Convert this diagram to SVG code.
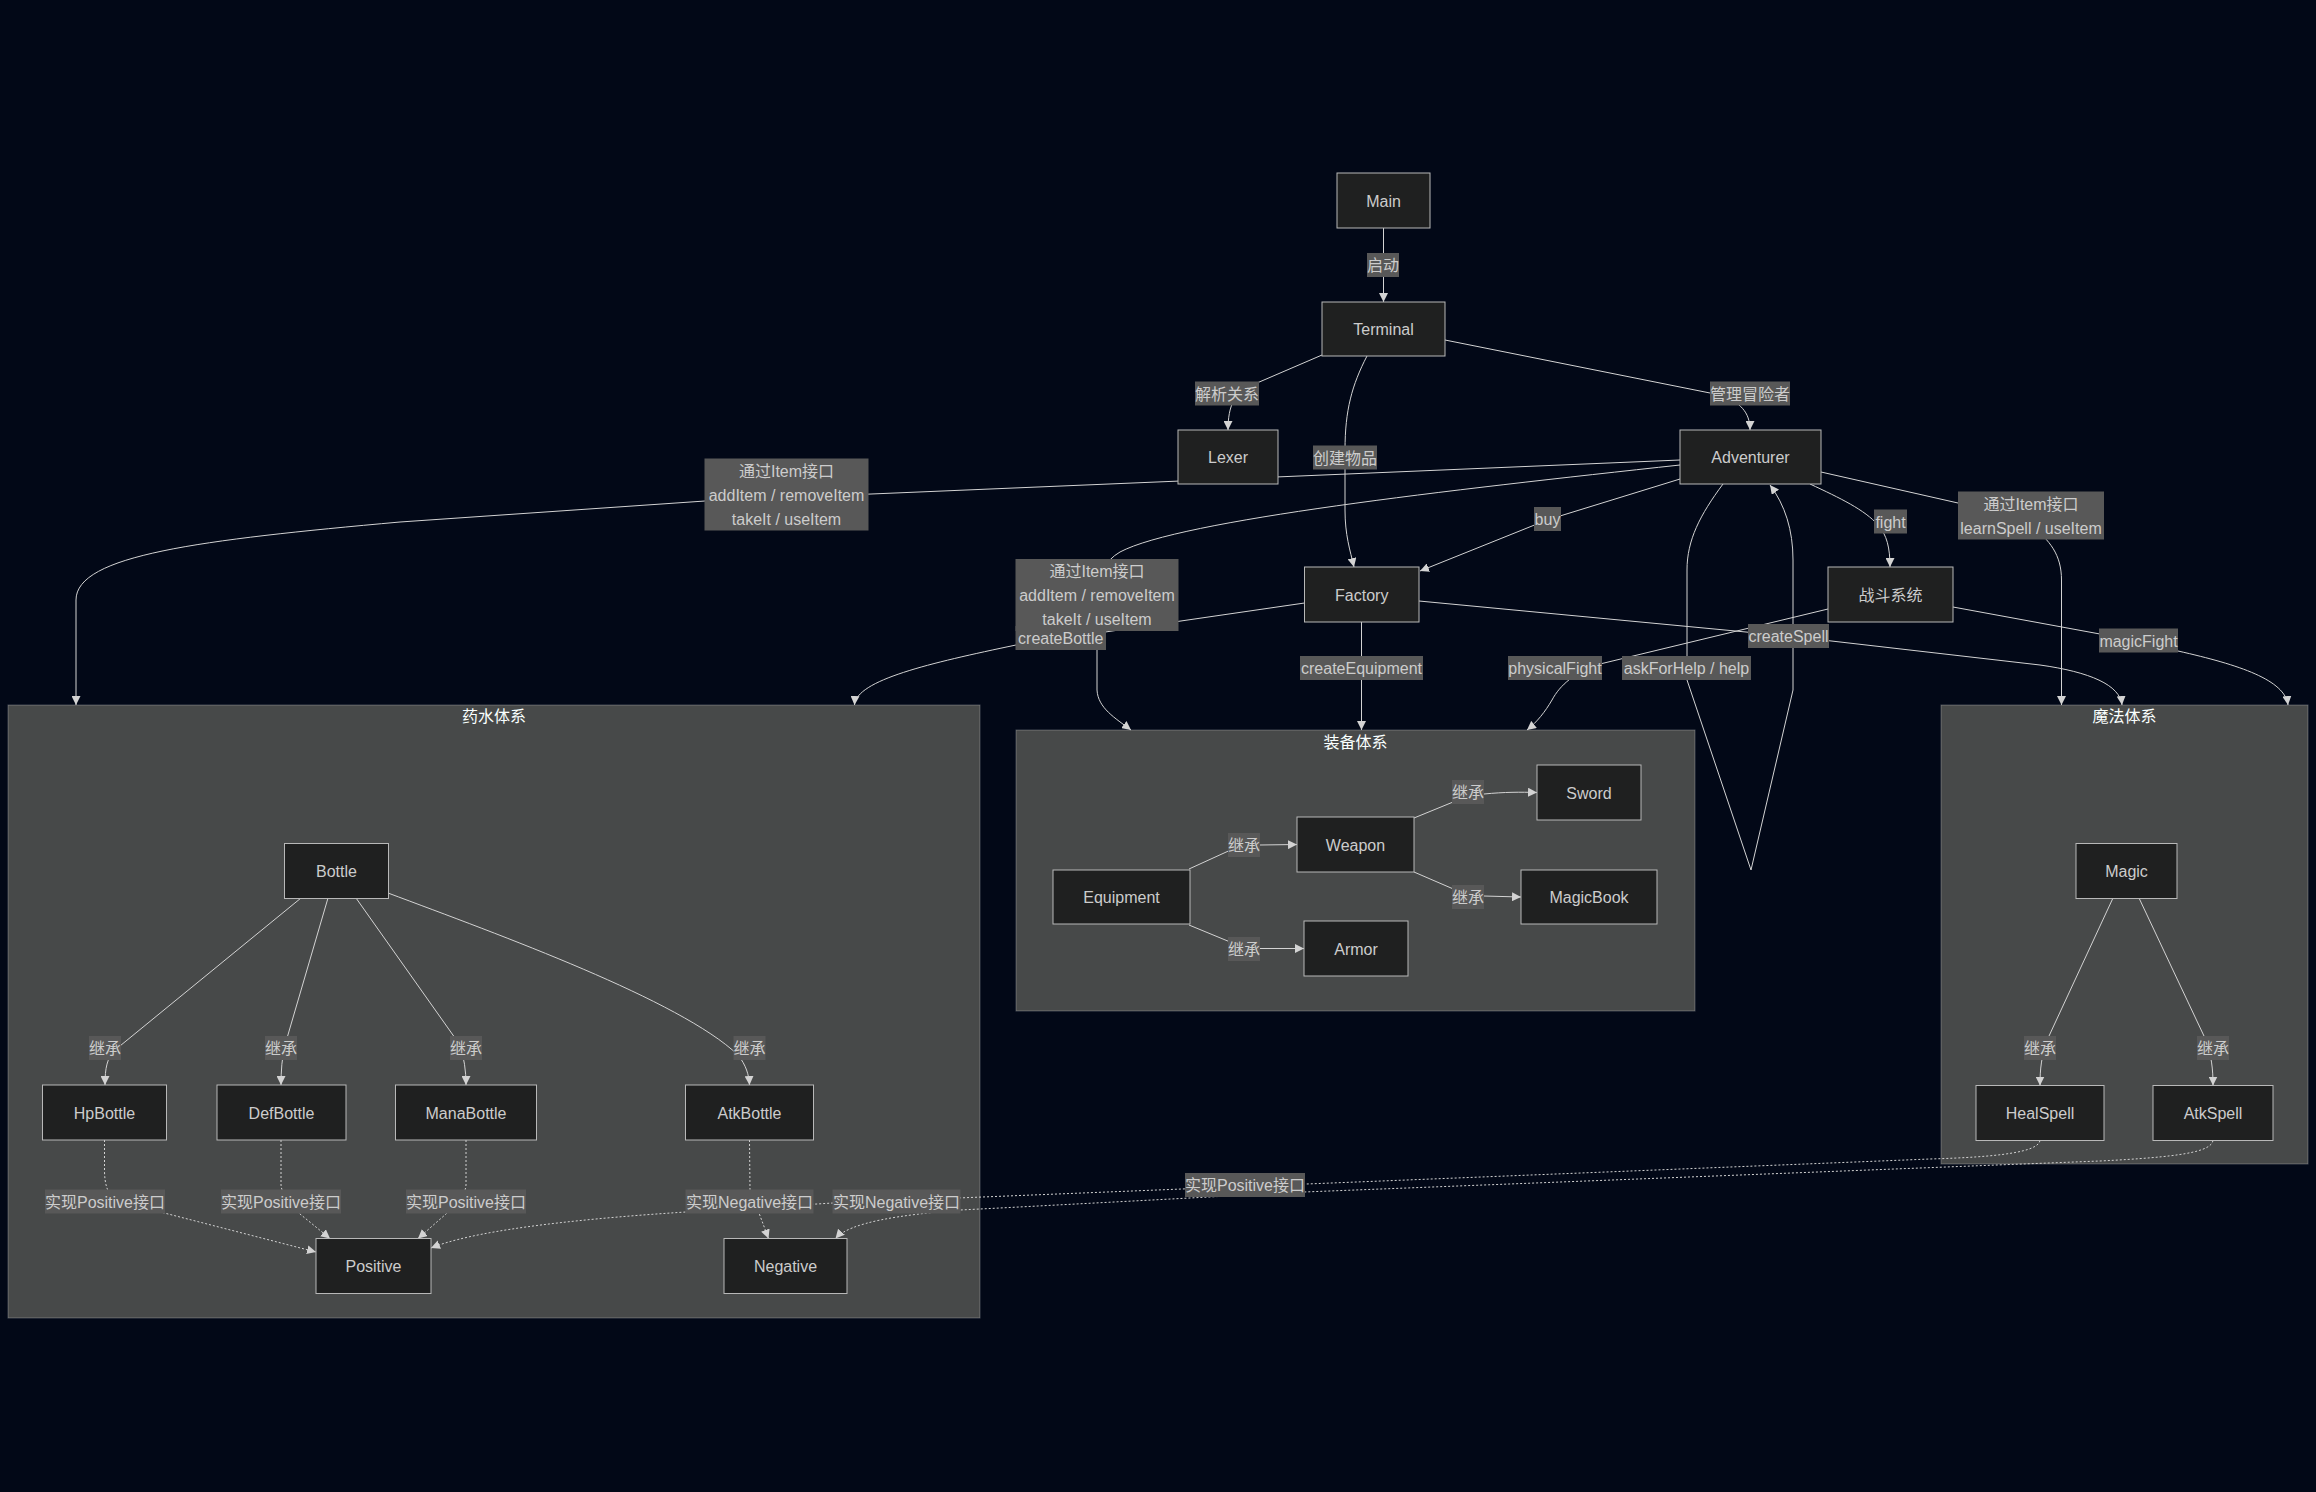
<svg xmlns="http://www.w3.org/2000/svg" width="2316" height="1492" viewBox="0 0 2316 1492">
<style>
text{font-family:"Liberation Sans","Noto Sans CJK SC",sans-serif;font-size:16px;text-anchor:middle}
.node rect{fill:#1f2020;stroke:#b8b8b8;stroke-width:1}
.node text{fill:#cccccc}
.cluster rect{fill:#474949;stroke:rgba(255,255,255,0.25);stroke-width:1}
.cluster text{fill:#F9FFFE}
.edge{fill:none;stroke:#d3d3d3;stroke-width:1;marker-end:url(#arrow)}
.dot{stroke-dasharray:2 2}
.lbl rect{fill:#585858}
.lbl text{fill:#cccccc}
</style>
<defs>
<marker id="arrow" viewBox="0 0 10 10" refX="10" refY="5" markerUnits="userSpaceOnUse" markerWidth="9" markerHeight="9" orient="auto">
<path d="M0,0 L10,5 L0,10 z" fill="#d3d3d3" stroke="none"/>
</marker>
</defs>
<rect x="0" y="0" width="2316" height="1492" fill="#020817"/>

<g id="clusters">
<g id="cluster-potion" class="cluster"><rect x="8" y="705" width="972" height="613"/><text x="494" y="722">药水体系</text></g>
<g id="cluster-equipment" class="cluster"><rect x="1016" y="730" width="679" height="281"/><text x="1355.5" y="747.5">装备体系</text></g>
<g id="cluster-magic" class="cluster"><rect x="1941" y="705" width="367" height="459"/><text x="2124.5" y="722">魔法体系</text></g>
</g>

<g id="connectors">
<path class="edge" d="M1383.5,228 L1383.5,302"/>
<path class="edge" d="M1322,355 L1250,386 C1235,393 1228,405 1228,430"/>
<path class="edge" d="M1367,356 C1352,385 1345,410 1345,450 L1345,510 C1345,535 1350,550 1354,567"/>
<path class="edge" d="M1445,340 L1720,395 C1740,402 1750,412 1750,430"/>
<path class="edge" d="M1680,479 L1547,520 L1420,571"/>
<path class="edge" d="M1680,460 L705,501 L400,522 C200,540 76,555 76,600 L76,705"/>
<path class="edge" d="M1680,465 C1450,490 1180,520 1120,552 Q1097,565 1097,600 L1097,690 C1098,708 1115,718 1131,730"/>
<path class="edge" d="M1304.5,603 L1016,645 C930,663 856,680 854.5,705"/>
<path class="edge" d="M1361.5,622 L1361.5,730"/>
<path class="edge" d="M1419,601 L1788,636 L2040,665 C2090,672 2120,685 2122,705"/>
<path class="edge" d="M1810,484 C1840,498 1865,510 1878,525 C1887,535 1890,548 1890,567"/>
<path class="edge" d="M1821,472 L1958,503 L2030,525 C2050,540 2061.5,555 2061.5,580 L2061.5,705"/>
<path class="edge" d="M1723,484 C1700,515 1687,540 1687,570 L1687,680 L1751,870 L1793,690 L1793,560 C1793,530 1785,505 1770,485"/>
<path class="edge" d="M1828,609 L1600,664 C1575,672 1560,685 1552,700 C1545,712 1537,722 1527,730"/>
<path class="edge" d="M1953,607 L2138,641 L2178,651 C2240,665 2285,680 2288,705"/>
<path class="edge" d="M301,898 L115,1050 C107,1058 105,1068 105,1085"/>
<path class="edge" d="M328,898 L285,1045 C282,1058 281,1070 281,1085"/>
<path class="edge" d="M356,898 L460,1045 C464,1058 466,1070 466,1085"/>
<path class="edge" d="M388,893 C500,935 680,1000 738,1055 C746,1065 749,1075 749.5,1085"/>
<path class="edge" d="M1189,869 L1235,848 L1260,845 L1297,844.5"/>
<path class="edge" d="M1189,925 L1235,944 L1260,948.5 L1304,948.5"/>
<path class="edge" d="M1414,818 L1458,800 L1484,794 C1505,792 1520,792 1537,792.5"/>
<path class="edge" d="M1414,872 L1458,891 L1484,896 L1521,897"/>
<path class="edge" d="M2113,898 L2049,1036 C2041,1055 2040,1070 2040,1085.5"/>
<path class="edge" d="M2139,898 L2204,1036 C2212,1055 2213,1070 2213,1085.5"/>
<path class="edge dot" d="M104.5,1140 L104.5,1170 C104.5,1185 108,1195 116,1200.6 L316,1252"/>
<path class="edge dot" d="M281,1140 L281,1185 C282,1195 290,1205 300,1214 L330,1238.5"/>
<path class="edge dot" d="M466,1140 L466,1185 C465,1197 455,1205 446,1214 L418,1238.5"/>
<path class="edge dot" d="M749.5,1140 L750,1190 C752,1200 756,1208 759,1213 L768.5,1238.5"/>
<path class="edge dot" d="M2040,1140.5 C2038,1152 2000,1157 1930,1159 L833,1203 L686,1212 C560,1220 470,1232 431,1248"/>
<path class="edge dot" d="M2213,1140.5 C2211,1152 2180,1157 2100,1161 L1304,1192 L1000,1208 L960,1210 C900,1215 850,1222 835.5,1238.5"/>
</g>

<g id="edge-labels">
<g class="lbl"><rect x="1367" y="253" width="32" height="24"/><text x="1383" y="271">启动</text></g>
<g class="lbl"><rect x="1195" y="381.5" width="64" height="24"/><text x="1227" y="399.5">解析关系</text></g>
<g class="lbl"><rect x="1313" y="445.5" width="64" height="24"/><text x="1345" y="463.5">创建物品</text></g>
<g class="lbl"><rect x="1710" y="381.5" width="80" height="24"/><text x="1750" y="399.5">管理冒险者</text></g>
<g class="lbl"><rect x="1534" y="507" width="27" height="24"/><text x="1547.5" y="525">buy</text></g>
<g class="lbl"><rect x="1874" y="509.5" width="33" height="24"/><text x="1890.5" y="527.5">fight</text></g>
<g class="lbl"><rect x="1958" y="491.5" width="146" height="48"/><text x="2031" y="509.5">通过Item接口</text><text x="2031" y="533.5">learnSpell / useItem</text></g>
<g class="lbl"><rect x="704.5" y="458.5" width="164" height="72"/><text x="786.5" y="476.5">通过Item接口</text><text x="786.5" y="500.5">addItem / removeItem</text><text x="786.5" y="524.5">takeIt / useItem</text></g>
<g class="lbl"><rect x="1015.5" y="626" width="90.5" height="24"/><text x="1060.75" y="643.5">createBottle</text></g>
<g class="lbl"><rect x="1015.5" y="559" width="163" height="72"/><text x="1097" y="577">通过Item接口</text><text x="1097" y="601">addItem / removeItem</text><text x="1097" y="625">takeIt / useItem</text></g>
<g class="lbl"><rect x="1300" y="656" width="123" height="24"/><text x="1361.5" y="674">createEquipment</text></g>
<g class="lbl"><rect x="1508" y="656" width="94" height="24"/><text x="1555" y="674">physicalFight</text></g>
<g class="lbl"><rect x="1622" y="656" width="129" height="24"/><text x="1686.5" y="674">askForHelp / help</text></g>
<g class="lbl"><rect x="1748" y="624" width="81" height="24"/><text x="1788.5" y="642">createSpell</text></g>
<g class="lbl"><rect x="2099" y="628.5" width="79" height="24"/><text x="2138.5" y="646.5">magicFight</text></g>
<g class="lbl"><rect x="89" y="1036" width="32" height="24"/><text x="105" y="1054">继承</text></g>
<g class="lbl"><rect x="265" y="1036" width="32" height="24"/><text x="281" y="1054">继承</text></g>
<g class="lbl"><rect x="450" y="1036" width="32" height="24"/><text x="466" y="1054">继承</text></g>
<g class="lbl"><rect x="733.5" y="1036" width="32" height="24"/><text x="749.5" y="1054">继承</text></g>
<g class="lbl"><rect x="1228" y="833" width="32" height="24"/><text x="1244" y="851">继承</text></g>
<g class="lbl"><rect x="1228" y="937" width="32" height="24"/><text x="1244" y="955">继承</text></g>
<g class="lbl"><rect x="1452" y="780" width="32" height="24"/><text x="1468" y="798">继承</text></g>
<g class="lbl"><rect x="1452" y="885" width="32" height="24"/><text x="1468" y="903">继承</text></g>
<g class="lbl"><rect x="2024" y="1036" width="32" height="24"/><text x="2040" y="1054">继承</text></g>
<g class="lbl"><rect x="2197" y="1036" width="32" height="24"/><text x="2213" y="1054">继承</text></g>
<g class="lbl"><rect x="45" y="1189.5" width="120" height="24"/><text x="105" y="1207.5">实现Positive接口</text></g>
<g class="lbl"><rect x="221" y="1189.5" width="120" height="24"/><text x="281" y="1207.5">实现Positive接口</text></g>
<g class="lbl"><rect x="406" y="1189.5" width="120" height="24"/><text x="466" y="1207.5">实现Positive接口</text></g>
<g class="lbl"><rect x="685.5" y="1189.5" width="128" height="24"/><text x="749.5" y="1207.5">实现Negative接口</text></g>
<g class="lbl"><rect x="832.5" y="1189.5" width="128" height="24"/><text x="896.5" y="1207.5">实现Negative接口</text></g>
<g class="lbl"><rect x="1185" y="1173" width="120" height="24"/><text x="1245" y="1191">实现Positive接口</text></g>
</g>

<g id="nodes">
<g id="node-Main" class="node"><rect x="1337" y="173" width="93" height="55"/><text x="1383.5" y="206.5">Main</text></g>
<g id="node-Terminal" class="node"><rect x="1322" y="302" width="123" height="54"/><text x="1383.5" y="335">Terminal</text></g>
<g id="node-Lexer" class="node"><rect x="1178" y="430" width="100" height="54"/><text x="1228" y="463">Lexer</text></g>
<g id="node-Adventurer" class="node"><rect x="1680" y="430" width="141" height="54"/><text x="1750.5" y="463">Adventurer</text></g>
<g id="node-Factory" class="node"><rect x="1304.5" y="567" width="114.5" height="55"/><text x="1361.75" y="600.5">Factory</text></g>
<g id="node-Fight" class="node"><rect x="1828" y="567" width="125" height="55"/><text x="1890.5" y="600.5">战斗系统</text></g>
<g id="node-Equipment" class="node"><rect x="1053" y="870" width="137" height="54"/><text x="1121.5" y="903">Equipment</text></g>
<g id="node-Weapon" class="node"><rect x="1297" y="817" width="117" height="55"/><text x="1355.5" y="850.5">Weapon</text></g>
<g id="node-Armor" class="node"><rect x="1304" y="921" width="104" height="55"/><text x="1356" y="954.5">Armor</text></g>
<g id="node-Sword" class="node"><rect x="1537" y="765" width="104" height="55"/><text x="1589" y="798.5">Sword</text></g>
<g id="node-MagicBook" class="node"><rect x="1521" y="870" width="136" height="54"/><text x="1589" y="903">MagicBook</text></g>
<g id="node-Bottle" class="node"><rect x="284.5" y="843.5" width="104" height="55"/><text x="336.5" y="877">Bottle</text></g>
<g id="node-HpBottle" class="node"><rect x="42.5" y="1085" width="124" height="55"/><text x="104.5" y="1118.5">HpBottle</text></g>
<g id="node-DefBottle" class="node"><rect x="217" y="1085" width="129" height="55"/><text x="281.5" y="1118.5">DefBottle</text></g>
<g id="node-ManaBottle" class="node"><rect x="395.5" y="1085" width="141" height="55"/><text x="466" y="1118.5">ManaBottle</text></g>
<g id="node-AtkBottle" class="node"><rect x="685.5" y="1085" width="128" height="55"/><text x="749.5" y="1118.5">AtkBottle</text></g>
<g id="node-Positive" class="node"><rect x="316" y="1238.5" width="115" height="55"/><text x="373.5" y="1272">Positive</text></g>
<g id="node-Negative" class="node"><rect x="724" y="1238.5" width="123" height="55"/><text x="785.5" y="1272">Negative</text></g>
<g id="node-Magic" class="node"><rect x="2076" y="843.5" width="101" height="55"/><text x="2126.5" y="877">Magic</text></g>
<g id="node-HealSpell" class="node"><rect x="1976" y="1085.5" width="128" height="55"/><text x="2040" y="1119">HealSpell</text></g>
<g id="node-AtkSpell" class="node"><rect x="2153" y="1085.5" width="120" height="55"/><text x="2213" y="1119">AtkSpell</text></g>
</g>
</svg>
